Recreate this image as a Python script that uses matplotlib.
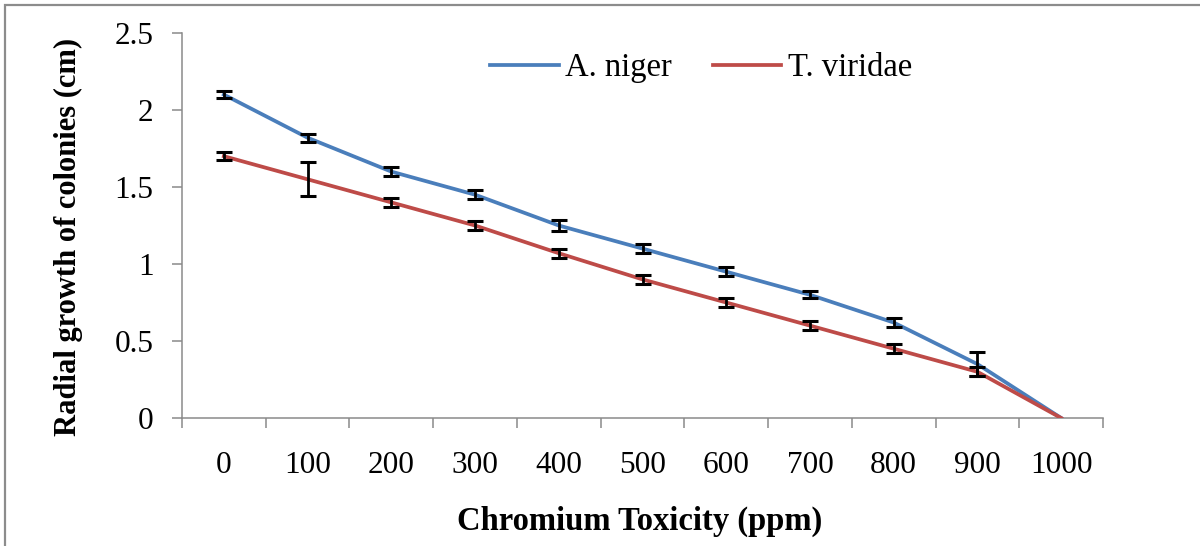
import numpy as np
import matplotlib.pyplot as plt
from matplotlib.patches import Rectangle

# data
conc = ['0', '100', '200', '300', '400', '500', '600', '700', '800', '900', '1000']
a_niger = [2.10, 1.82, 1.60, 1.45, 1.25, 1.10, 0.95, 0.80, 0.62, 0.35, 0.0]
a_niger_err = [0.025, 0.027, 0.03, 0.03, 0.035, 0.03, 0.03, 0.022, 0.027, 0.08, 0.0]
t_viridae = [1.70, 1.55, 1.40, 1.25, 1.07, 0.90, 0.75, 0.60, 0.45, 0.30, 0.0]
t_viridae_err = [0.027, 0.11, 0.03, 0.03, 0.03, 0.03, 0.03, 0.03, 0.03, 0.03, 0.0]
y_ticks = [0, 0.5, 1, 1.5, 2, 2.5]
y_labels = ['0', '0.5', '1', '1.5', '2', '2.5']

plt.rcParams['font.family'] = ['Liberation Serif', 'DejaVu Serif']

fig = plt.figure(figsize=(12, 5.46), dpi=100)
ax = fig.add_axes([182/1200, 1 - 418/546, (1103 - 182)/1200, (418 - 33)/546])

x = np.arange(len(conc))
blue = '#4A7EBB'
red = '#BE4B48'
grey = '#8a8a8a'

ax.plot(x, a_niger, color=blue, lw=2.7, label='A. niger', zorder=3)
ax.plot(x, t_viridae, color=red, lw=2.7, label='T. viridae', zorder=3)

# error bars (skip the points with no error)
for vals, errs in [(a_niger, a_niger_err), (t_viridae, t_viridae_err)]:
    vals = np.array(vals)
    errs = np.array(errs)
    m = errs > 0
    ax.errorbar(x[m], vals[m], yerr=errs[m], fmt='none', ecolor='black',
                elinewidth=2.0, capsize=5.5, capthick=2.2, zorder=4)

ax.set_xlim(-0.5, len(conc) - 0.5)
ax.set_ylim(0, 2.5)
ax.set_yticks(y_ticks)
ax.set_yticklabels(y_labels)
ax.set_xticks(x)
ax.set_xticklabels(conc)
ax.set_xticks(np.arange(len(conc) + 1) - 0.5, minor=True)

ax.tick_params(axis='x', which='major', length=0, pad=24, labelsize=22.5)
ax.tick_params(axis='x', which='minor', length=7.5, width=1.1, color=grey, direction='out')
ax.tick_params(axis='y', length=7.5, width=1.1, color=grey, pad=13, labelsize=22.5)

for s in ['top', 'right']:
    ax.spines[s].set_visible(False)
for s in ['left', 'bottom']:
    ax.spines[s].set_color(grey)
    ax.spines[s].set_linewidth(1.1)

fig.text(640/1200, 1 - 521/546, 'Chromium Toxicity (ppm)', fontsize=23.5,
         fontweight='bold', ha='center', va='center')
fig.text(68/1200, 1 - 237/546, 'Radial growth of colonies (cm)', fontsize=22,
         fontweight='bold', ha='center', va='center', rotation=90)

fig.legend(loc='center left', bbox_to_anchor=(490/1200, 1 - 68/546), ncol=2,
           frameon=False, fontsize=23.5, handlelength=2.1, handletextpad=0.2,
           columnspacing=1.25, borderpad=0, borderaxespad=0)

# outer frame
fig.patches.append(Rectangle((5/1200, -0.1), 1.2, 1 - 5/546 + 0.1,
                             transform=fig.transFigure, fill=False,
                             edgecolor='#8c8c8c', lw=1.6))

fig.savefig('out.png', dpi=100)
